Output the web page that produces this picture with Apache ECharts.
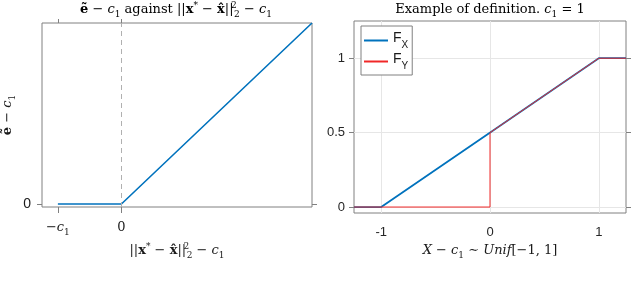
<!DOCTYPE html>
<html>
<head>
<meta charset="utf-8">
<script src="https://cdn.jsdelivr.net/npm/echarts@6/dist/echarts.min.js"></script>
<style>html,body{margin:0;padding:0;background:#fff}#c{width:640px;height:283px}</style>
</head>
<body>
<div id="c"></div>
<script>
// Left panel: e~ - c1 against ||x*-x^||^2 - c1  (units of c1)
const leftX = [-1, 0, 3];
const leftY = [0, 0, 3];
const leftXTicks = [-1, 0];
const leftYTicks = [0];
// Right panel: CDFs
const fxX = [-1.25, -1, 1, 1.25];
const fxY = [0, 0, 1, 1];
const fyX = [-1.25, 0, 0, 1, 1.25];
const fyY = [0, 0, 0.5, 1, 1];
const rightXTicks = [-1, 0, 1];
const rightYTicks = [0, 0.5, 1];
const seriesNames = ['FX', 'FY'];

const SERIF = 'DejaVu Serif';
const SANS = 'Liberation Sans';
const C = '#1a1a1a';
const rich = {
  r: {fontFamily: SERIF, fontSize: 13, color: C, lineHeight: 18},
  i: {fontFamily: SERIF, fontSize: 13, fontStyle: 'italic', color: C, lineHeight: 18},
  b: {fontFamily: SERIF, fontSize: 13, fontWeight: 'bold', color: C, lineHeight: 18},
  sub: {fontFamily: SERIF, fontSize: 9, color: C, verticalAlign: 'bottom', lineHeight: 18},
  sup: {fontFamily: SERIF, fontSize: 9, color: C, verticalAlign: 'top', lineHeight: 18},
  sup0: {fontFamily: SERIF, fontSize: 9, color: C, verticalAlign: 'top', lineHeight: 18, width: 0.5}
};
const zip = (a, b) => a.map((v, k) => [v, b[k]]);

const chart = echarts.init(document.getElementById('c'), null, {renderer: 'canvas'});
const tickStyle = {color: '#808080', width: 1};
const noLine = {show: false, onZero: false};
chart.setOption({
  animation: false,
  backgroundColor: '#fff',
  graphic: [
    {type: 'text', x: 176, y: 10, style: {
      text: '{b|ẽ}{r| − }{i|c}{sub|1}{r| against ||}{b|x}{sup|*}{r| − }{b|x̂}{r|||}{sup0|2}{sub|2}{r| − }{i|c}{sub|1}',
      rich: rich, align: 'center', verticalAlign: 'middle'}},
    {type: 'text', x: 490, y: 10, style: {
      text: '{r|Example of definition. }{i|c}{sub|1}{r| = 1}',
      rich: rich, align: 'center', verticalAlign: 'middle'}}
  ],
  grid: [
    {left: 42, top: 23, width: 270, height: 184, show: true, borderColor: '#808080', borderWidth: 1, backgroundColor: '#fff'},
    {left: 354, top: 21, width: 272, height: 192, show: true, borderColor: '#808080', borderWidth: 1, backgroundColor: '#fff'}
  ],
  legend: {
    data: seriesNames,
    left: 361, top: 26,
    orient: 'vertical',
    backgroundColor: '#fff',
    borderColor: '#808080', borderWidth: 1, borderRadius: 0,
    padding: [5, 4, 4, 3],
    itemGap: 2,
    itemWidth: 24, itemHeight: 2,
    icon: 'rect',
    formatter: n => '{n|F}{s|' + n.slice(1) + '}',
    textStyle: {rich: {
      n: {fontFamily: SANS, fontSize: 14, color: C, lineHeight: 19, verticalAlign: 'top'},
      s: {fontFamily: SANS, fontSize: 10, color: C, verticalAlign: 'bottom', lineHeight: 19}
    }}
  },
  xAxis: [
    {gridIndex: 0, type: 'value', min: -1.25, max: 3, position: 'bottom',
      axisLine: noLine,
      axisTick: {show: true, inside: false, length: 6, customValues: leftXTicks, lineStyle: tickStyle},
      axisLabel: {show: true, customValues: leftXTicks, margin: 12,
        formatter: v => v === -1 ? '{r|−}{i|c}{sub|1}' : '{r|0}', rich: rich},
      splitLine: {show: false},
      name: '{r|||}{b|x}{sup|*}{r| − }{b|x̂}{r|||}{sup0|2}{sub|2}{r| − }{i|c}{sub|1}',
      nameLocation: 'middle', nameGap: 34, nameTextStyle: {rich: rich}},
    {gridIndex: 0, type: 'value', min: -1.25, max: 3, position: 'top',
      axisLine: noLine,
      axisTick: {show: true, inside: false, length: 4, customValues: leftXTicks, lineStyle: tickStyle},
      axisLabel: {show: false}, splitLine: {show: false}},
    {gridIndex: 1, type: 'value', min: -1.25, max: 1.25, position: 'bottom',
      axisLine: noLine,
      axisTick: {show: false, customValues: rightXTicks},
      axisLabel: {show: true, customValues: rightXTicks, margin: 13,
        fontFamily: SANS, fontSize: 13, color: '#262626', formatter: v => String(v)},
      splitLine: {show: true, lineStyle: {color: '#e6e6e6', width: 1}},
      name: '{i|X}{r| − }{i|c}{sub|1}{r| ∼ }{i|Unif}{r|[−1, 1]}',
      nameLocation: 'middle', nameGap: 29, nameTextStyle: {rich: rich}}
  ],
  yAxis: [
    {gridIndex: 0, type: 'value', min: -0.05, max: 3, position: 'left',
      axisLine: noLine,
      axisTick: {show: true, inside: false, length: 5, customValues: leftYTicks, lineStyle: tickStyle},
      axisLabel: {show: true, customValues: leftYTicks, margin: 11,
        fontFamily: SANS, fontSize: 14, color: C},
      splitLine: {show: false},
      name: '{b|ẽ}{r| − }{i|c}{sub|1}', nameLocation: 'middle', nameGap: 25, nameRotate: 90,
      nameTextStyle: {rich: rich}},
    {gridIndex: 0, type: 'value', min: -0.05, max: 3, position: 'right',
      axisLine: noLine,
      axisTick: {show: true, inside: false, length: 5, customValues: leftYTicks, lineStyle: tickStyle},
      axisLabel: {show: false}, splitLine: {show: false}},
    {gridIndex: 1, type: 'value', min: -0.04, max: 1.25, position: 'left',
      axisLine: noLine,
      axisTick: {show: true, inside: false, length: 5, customValues: rightYTicks, lineStyle: tickStyle},
      axisLabel: {show: true, customValues: rightYTicks, margin: 9,
        fontFamily: SANS, fontSize: 13, color: '#262626', formatter: v => String(v)},
      splitLine: {show: true, lineStyle: {color: '#e6e6e6', width: 1}}},
    {gridIndex: 1, type: 'value', min: -0.04, max: 1.25, position: 'right',
      axisLine: noLine,
      axisTick: {show: true, inside: false, length: 5, customValues: rightYTicks, lineStyle: tickStyle},
      axisLabel: {show: false}, splitLine: {show: false}}
  ],
  series: [
    {type: 'line', name: 'left', xAxisIndex: 0, yAxisIndex: 0, data: zip(leftX, leftY),
      showSymbol: false, lineStyle: {color: '#0072BD', width: 1.6}, silent: true,
      markLine: {silent: true, symbol: 'none', label: {show: false},
        lineStyle: {color: '#b0b0b0', type: [5, 4], width: 1},
        data: [{xAxis: 0}]}},
    {type: 'line', name: 'FX', xAxisIndex: 2, yAxisIndex: 2, data: zip(fxX, fxY),
      showSymbol: false, itemStyle: {color: '#0072BD'}, lineStyle: {color: '#0072BD', width: 1.8}},
    {type: 'line', name: 'FY', xAxisIndex: 2, yAxisIndex: 2, data: zip(fyX, fyY),
      showSymbol: false, itemStyle: {color: '#F02828'}, lineStyle: {color: '#F02828', width: 1}}
  ]
});
</script>
</body>
</html>
